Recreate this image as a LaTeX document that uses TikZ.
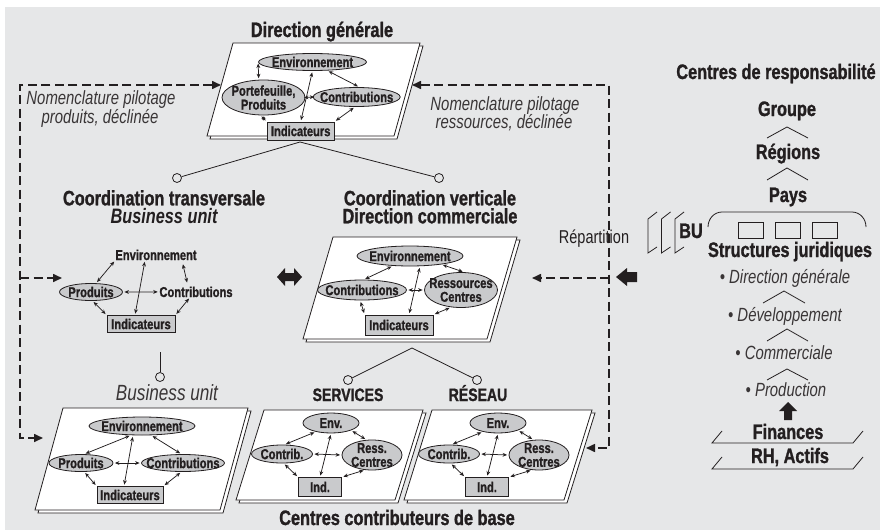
\documentclass[tikz,border=0pt]{standalone}
\usepackage{fontspec}
\setmainfont{Liberation Sans}[FakeStretch=0.78, BoldFeatures={FakeBold=1.2}]
\usetikzlibrary{arrows.meta,shapes.geometric,calc}
\definecolor{bg}{HTML}{E6E7E8}
\definecolor{elg}{HTML}{C9CACC}
\definecolor{ink}{HTML}{231F20}
\newcommand\para[5]{%
  \draw[pg] (#1+3,#2+3) -- ++(#3,0) -- ++(-#5,#4) -- ++(-#3,0) -- cycle;
  \draw[pg] (#1,#2) -- ++(#3,0) -- ++(-#5,#4) -- ++(-#3,0) -- cycle;}
\newcommand\minidiag[2]{%
  \node[elp, minimum width=56pt, minimum height=20pt, label={[lbl]center:Env.}] (#1E) at (331+#2,423) {};
  \node[elp, minimum width=61pt, minimum height=18pt, label={[lbl]center:Contrib.}] (#1C) at (282+#2,454) {};
  \node[elp, minimum width=60pt, minimum height=30pt, label={[lbl]center:{Ress.\\Centres}}] (#1R) at (372+#2,455) {};
  \node[bxs, minimum width=43pt, minimum height=19pt] (#1I) at (320+#2,487) {Ind.};
  \draw[sa] (#1C.75) -- (#1E.-150);
  \draw[sa] (#1E.-20) -- (#1R.110);
  \draw[sa] (#1C.east) -- (#1R.west);
  \draw[sa] (#1E.south) -- (#1I.north);
  \draw[sa] (#1C.-80) -- (#1I.north west);
  \draw[sa] (#1R.-115) -- (#1I.north east);}
\begin{document}
\begin{tikzpicture}[x=1pt,y=-1pt]
\tikzset{
  hd/.style={font=\fontsize{20.9}{23}\selectfont\bfseries, text=ink, inner sep=0pt, anchor=base},
  hd2/.style={font=\fontsize{20.9}{18}\selectfont\bfseries, text=ink, inner sep=0pt, anchor=north, align=center},
  itx/.style={font=\fontsize{19.1}{21}\selectfont\itshape, text=ink!90, inner sep=0pt, anchor=base},
  lbl/.style={font=\fontsize{14.3}{13.8}\selectfont\bfseries, text=ink, inner sep=0pt, align=center},
  elp/.style={ellipse, draw=ink, fill=elg, line width=0.8pt, inner sep=0pt},
  bxs/.style={rectangle, draw=ink, fill=elg, line width=0.8pt, inner sep=0pt, font=\fontsize{14.3}{14}\selectfont\bfseries, text=ink},
  sa/.style={{Stealth[length=4.5pt,width=3.8pt]}-{Stealth[length=4.5pt,width=3.8pt]}, line width=0.75pt, draw=ink, shorten <=1.5pt, shorten >=1.5pt},
  sab/.style={sa, shorten <=-1.5pt, shorten >=-1.5pt},
  dl/.style={draw=ink, line width=1.6pt, dash pattern=on 9pt off 4.5pt},
  dtip/.style={{Triangle[length=9pt,width=8pt]}-{Triangle[length=9pt,width=8pt]}},
  dtipe/.style={-{Triangle[length=9pt,width=8pt]}},
  pg/.style={draw=ink, fill=white, line width=0.8pt},
  circ/.style={circle, draw=ink, line width=0.8pt, minimum size=9pt, inner sep=0pt},
  thn/.style={draw=ink, line width=0.8pt},
}
\useasboundingbox (0,0) rectangle (880,530);
\fill[white] (0,0) rectangle (880,530);
\fill[bg] (5,7) rectangle (880,530);

% ---------- parallelograms
\para{233}{43}{187}{93}{26}
\para{333}{237}{184}{102}{30}
\para{63}{408}{185}{102}{28}
\para{264}{410}{159}{90}{28}
\para{432}{410}{160}{90}{28}

% ---------- top: Direction generale
\node[hd] (dg) at (322,37) {Direction générale};
\node[elp, minimum width=108pt, minimum height=17pt, label={[lbl]center:Environnement}] (tE) at (312.5,62) {};
\node[elp, minimum width=83pt, minimum height=35pt, label={[lbl]center:{Portefeuille,\\Produits}}] (tP) at (263.5,97.5) {};
\node[elp, minimum width=87pt, minimum height=19pt, label={[lbl]center:Contributions}] (tC) at (356.7,97) {};
\node[bxs, minimum width=67pt, minimum height=18pt] (tI) at (300.7,131) {Indicateurs};
\draw[sa] (tP.105) -- (tE.west);
\draw[sa] (tE.-30) -- (tC.75);
\draw[sab] (tP.east) -- (tC.west);
\draw[sa] (tE.south) -- (tI.north);
\draw[sa] (tP.-100) -- (tI.north west);
\draw[sa] (tC.-100) -- (tI.north east);

% nomenclature texts
\node[itx] (nl1) at (101,104) {Nomenclature pilotage};
\node[itx] (nl2) at (100,123) {produits, déclinée};
\node[itx] (nr1) at (505,110) {Nomenclature pilotage};
\node[itx] (nr2) at (504,128) {ressources, déclinée};

% connectors from top
\coordinate (apx1) at (300,142);
\node[circ] (c1) at (177,178) {};
\node[circ] (c2) at (439,178) {};
\draw[thn] (apx1) -- (c1);
\draw[thn] (apx1) -- (c2);

% ---------- coordination headings
\node[hd2] (ct) at (164,190) {Coordination transversale\\\itshape Business unit};
\node[hd2] (cv) at (430,190) {Coordination verticale\\Direction commerciale};

% ---------- middle-left diagram
\node[lbl, anchor=base] (lE) at (156,260) {Environnement};
\node[elp, minimum width=63pt, minimum height=17pt, label={[lbl]center:Produits}] (lP) at (91,292) {};
\node[lbl, anchor=base] (lC) at (196,297) {Contributions};
\node[bxs, minimum width=68pt, minimum height=17pt] (lI) at (141,324) {Indicateurs};
\draw[sa] (lP.60) -- (lE.south west);
\draw[sa, shorten <=4pt, shorten >=4pt] ([xshift=26pt]lE.south) -- ([xshift=-8pt]lC.north);
\draw[sa] (lP.east) -- (lC.west);
\draw[sa] ([xshift=-11pt]lE.south) -- ([xshift=-6pt]lI.north);
\draw[sa] (lP.-80) -- (lI.north west);
\draw[sa] ([xshift=-6pt]lC.south) -- (lI.north east);

% big double arrow
\fill[ink] (277,277) -- (285,268) -- (285,273) -- (294,273) -- (294,268) -- (302,277)
  -- (294,286) -- (294,281) -- (285,281) -- (285,286) -- cycle;

% ---------- middle diagram
\node[elp, minimum width=106pt, minimum height=20pt, label={[lbl]center:Environnement}] (mE) at (410,256) {};
\node[elp, minimum width=89pt, minimum height=20pt, label={[lbl]center:Contributions}] (mC) at (362,290) {};
\node[elp, minimum width=73pt, minimum height=35pt, label={[lbl]center:{Ressources\\Centres}}] (mR) at (461,290) {};
\node[bxs, minimum width=68pt, minimum height=20pt] (mI) at (399,325) {Indicateurs};
\draw[sa] (mC.80) -- (mE.-150);
\draw[sa] (mE.-15) -- (mR.80);
\draw[sa] (mC.east) -- (mR.west);
\draw[sa] ([xshift=10pt]mE.south) -- ([xshift=10pt]mI.north);
\draw[sa] (mC.-100) -- (mI.north west);
\draw[sa] (mR.-120) -- (mI.north east);

% connectors middle -> services / reseau
\coordinate (apx2) at (412,348);
\node[circ] (c3) at (348,380) {};
\node[circ] (c4) at (477,380) {};
\draw[thn] (apx2) -- (c3);
\draw[thn] (apx2) -- (c4);
\node[hd, font=\fontsize{18}{19}\selectfont\bfseries] (serv) at (348,401) {SERVICES};
\node[hd, font=\fontsize{18}{19}\selectfont\bfseries] (res) at (478,401) {RÉSEAU};

% business unit link
\coordinate (butop) at (160,352);
\node[circ] (c5) at (160,377) {};
\draw[thn] (butop) -- (c5);
\node[itx, font=\fontsize{22}{23}\selectfont\itshape] (bu) at (167,400) {Business unit};

% ---------- bottom-left diagram
\node[elp, minimum width=106pt, minimum height=18pt, label={[lbl]center:Environnement}] (bE) at (142,426) {};
\node[elp, minimum width=64pt, minimum height=17pt, label={[lbl]center:Produits}] (bP) at (81,463) {};
\node[elp, minimum width=83pt, minimum height=17pt, label={[lbl]center:Contributions}] (bC) at (183,463) {};
\node[bxs, minimum width=66pt, minimum height=17pt] (bI) at (130,495) {Indicateurs};
\draw[sa] (bP.70) -- (bE.-140);
\draw[sa] (bE.-45) -- (bC.100);
\draw[sa] (bP.east) -- (bC.west);
\draw[sa] ([xshift=-9pt]bE.south) -- ([xshift=-6pt]bI.north);
\draw[sa] (bP.-70) -- (bI.north west);
\draw[sa] (bC.-100) -- (bI.north east);

% ---------- services / reseau diagrams
\minidiag{s}{0}
\minidiag{r}{167}

\node[hd] (ccb) at (397,525) {Centres contributeurs de base};

% ---------- dashed connectors
\node[font=\fontsize{18.6}{20}\selectfont, text=ink, inner sep=0pt, anchor=base] (rep) at (594,243) {Répartition};
\coordinate (lc1) at (20,85);
\coordinate (lc2) at (20,438);
\coordinate (lb) at (20,278);
\coordinate (tipT) at (221,85);
\coordinate (tipL) at (62,278);
\coordinate (tipB) at (43,438);
\draw[dl, dtip] (tipT) -- (lc1) -- (lc2) -- (tipB);
\draw[dl, dtipe] (lb) -- (tipL);
\coordinate (rc1) at (609,85);
\coordinate (rc2) at (609,448);
\coordinate (rb) at (609,278);
\coordinate (tipTR) at (412,85);
\coordinate (tipM) at (532,278);
\coordinate (tipBR) at (586,448);
\draw[dl, dtip] (tipTR) -- (rc1) -- (rc2) -- (tipBR);
\draw[dl, dtipe] (rb) -- (tipM);

% black left arrow
\fill[ink] (616,277) -- (627,268) -- (627,272) -- (637,272) -- (637,282) -- (627,282) -- (627,286) -- cycle;

% ---------- right column
\node[hd] (cdr) at (776,79) {Centres de responsabilité};
\node[hd] (grp) at (787,116) {Groupe};
\draw[thn] (767,138) -- (787,127) -- (808,138);
\node[hd] (reg) at (788,159) {Régions};
\draw[thn] (767,180) -- (787,168) -- (808,180);
\node[hd] (pays) at (788,202) {Pays};
\draw[thn] (708,227) to[out=90,in=180] (722,212) -- (852,212) to[out=0,in=90] (866,227);
\draw[thn] (738,222) rectangle (763,238);
\draw[thn] (775,222) rectangle (800,238);
\draw[thn] (812,222) rectangle (837,238);
\foreach \dx in {0,13.5,27} {
  \draw[thn] (657+\dx,212) -- (648+\dx,219) -- (648+\dx,253) -- (657+\dx,247);
}
\node[hd] (bu2) at (691,238) {BU};
\node[hd] (sj) at (790,257) {Structures juridiques};
\node[itx] (r1) at (785,283) {• Direction générale};
\draw[thn] (763,303) -- (784,291) -- (805,303);
\node[itx] (r2) at (785,321) {• Développement};
\draw[thn] (767,341) -- (787,329) -- (808,341);
\node[itx] (r3) at (784,359) {• Commerciale};
\draw[thn] (767,380) -- (787,369) -- (808,380);
\node[itx] (r4) at (786,396) {• Production};
\fill[ink] (788,402) -- (797,411) -- (792,411) -- (792,420) -- (784,420) -- (784,411) -- (779,411) -- cycle;
\node[hd] (fin) at (788,439) {Finances};
\draw[thn] (722,431) -- (712,443) -- (853,443) -- (863,431);
\node[hd] (rh) at (790,463) {RH, Actifs};
\draw[thn] (722,457) -- (712,469) -- (853,469) -- (863,457);
\end{tikzpicture}
\end{document}
